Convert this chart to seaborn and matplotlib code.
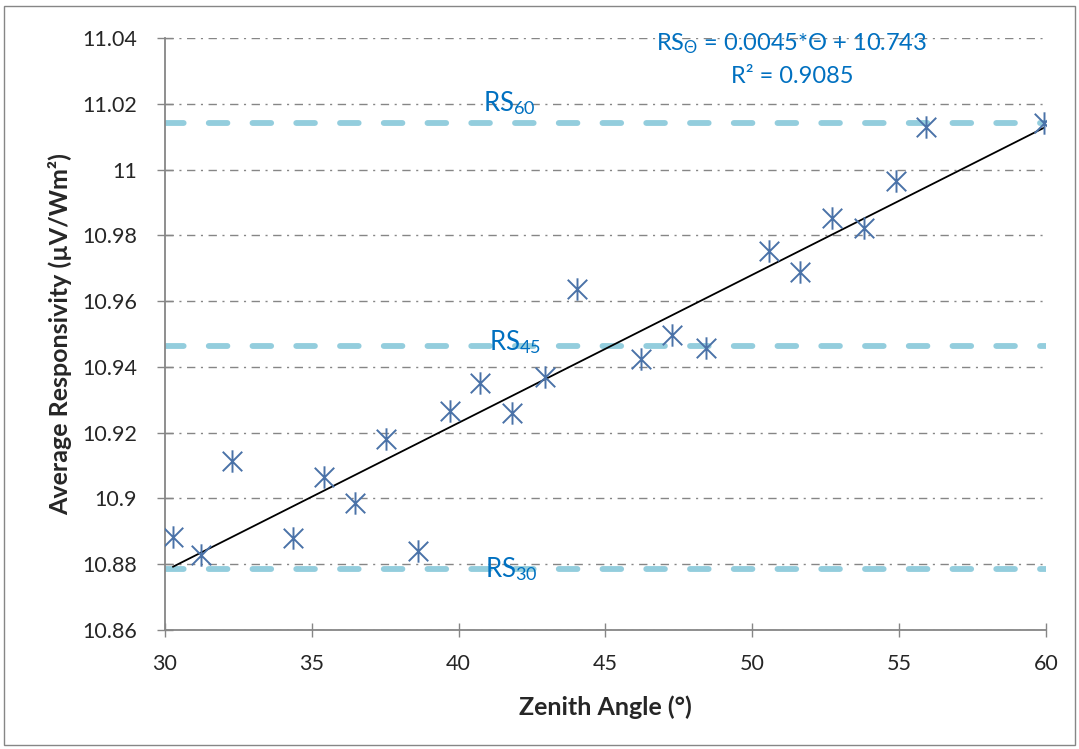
import matplotlib
matplotlib.use("Agg")
import numpy as np
import pandas as pd
import matplotlib.pyplot as plt
import matplotlib.patches as mpatches
from matplotlib.path import Path
import seaborn as sns

# ── Data ───────────────────────────────────────────────────────────────────────
zenith_angle = [30.27, 31.23, 32.27, 34.35, 35.40, 36.46, 37.53, 38.62, 39.69,
                40.74, 41.83, 42.94, 44.03, 46.21, 47.26, 48.41, 50.57, 51.64,
                52.72, 53.81, 54.88, 55.93, 59.94]
responsivity = [10.8884, 10.8828, 10.9114, 10.8880, 10.9064, 10.8985, 10.9180,
                10.8840, 10.9266, 10.9352, 10.9259, 10.9368, 10.9637, 10.9423,
                10.9497, 10.9457, 10.9753, 10.9687, 10.9852, 10.9822, 10.9966,
                11.0130, 11.0140]

fit_slope = 0.0045
fit_intercept = 10.743

ref_names = ["60", "45", "30"]
ref_values = [11.0140, 10.9462, 10.8785]
ref_label_x = [40.83, 41.03, 40.90]
ref_label_y = [11.0179, 10.9452, 10.8762]

x_ticks = [30, 35, 40, 45, 50, 55, 60]
y_ticks = [10.86, 10.88, 10.90, 10.92, 10.94, 10.96, 10.98, 11.00, 11.02, 11.04]
y_tick_labels = ["10.86", "10.88", "10.9", "10.92", "10.94", "10.96", "10.98",
                 "11", "11.02", "11.04"]

# ── Style ──────────────────────────────────────────────────────────────────────
sns.set_theme(style="white")
plt.rcParams["font.family"] = ["Lato", "DejaVu Sans"]
plt.rcParams["mathtext.fontset"] = "custom"
plt.rcParams["mathtext.rm"] = "Lato"
plt.rcParams["mathtext.it"] = "Lato:italic"
plt.rcParams["mathtext.bf"] = "Lato:bold"

GRID = "#868686"
MARK = "#4A72A8"
REF = "#93CDDD"
TXT = "#0070C0"

df = pd.DataFrame({"angle": zenith_angle, "rs": responsivity})

# Excel-style star marker: an X with a vertical stroke
star = Path(
    [(-1, -1), (1, 1), (-1, 1), (1, -1), (0, -1.15), (0, 1.15)],
    [Path.MOVETO, Path.LINETO, Path.MOVETO, Path.LINETO, Path.MOVETO, Path.LINETO],
)

fig = plt.figure(figsize=(10.79, 7.49), dpi=100)
ax = fig.add_axes([0.1529, 0.1589, 0.8165, 0.7904])

# horizontal dash-dot grid
for v in y_ticks:
    ax.plot([30, 60], [v, v], color=GRID, lw=1.0,
            linestyle=(0, (6, 4, 1.5, 4)), zorder=1)

# reference levels
for name, v, lx, ly in zip(ref_names, ref_values, ref_label_x, ref_label_y):
    ax.plot([30, 60], [v, v], color=REF, lw=4.2,
            linestyle=(0, (3.2, 4.3)), dash_capstyle="round", zorder=2)
    ax.text(lx, ly, "RS$_{" + name + "}$", color=TXT, fontsize=18.5,
            ha="left", va="baseline", zorder=5)

# trend line
trend_x = np.array([min(zenith_angle), max(zenith_angle)])
sns.lineplot(x=trend_x, y=fit_slope * trend_x + fit_intercept, color="black",
             lw=1.3, ax=ax, zorder=3)

sns.scatterplot(data=df, x="angle", y="rs", marker=star, s=260, color=MARK,
                edgecolor=MARK, linewidth=1.4, ax=ax, zorder=4)

ax.text(51.35, 11.0361, r"RS$_{\Theta}$ = 0.0045*Θ + 10.743", color=TXT,
        fontsize=17, ha="center", va="baseline")
ax.text(51.35, 11.0262, "R² = 0.9085", color=TXT, fontsize=17,
        ha="center", va="baseline")

ax.set_xlim(30, 60)
ax.set_ylim(10.86, 11.04)
ax.set_xticks(x_ticks)
ax.set_yticks(y_ticks)
ax.set_yticklabels(y_tick_labels)

for side in ["top", "right"]:
    ax.spines[side].set_visible(False)
for side in ["left", "bottom"]:
    ax.spines[side].set_color(GRID)
    ax.spines[side].set_linewidth(1.3)

ax.tick_params(axis="y", direction="inout", length=12, width=1, color=GRID,
               labelsize=15.5, pad=14, left=True)
ax.tick_params(axis="x", direction="inout", length=10, width=1, color=GRID,
               labelsize=15.5, pad=12, bottom=True)

ax.set_xlabel("Zenith Angle (°)", fontsize=18, fontweight="bold", labelpad=16)
ax.set_ylabel("Average Responsivity (µV/Wm²)", fontsize=18, fontweight="bold",
              labelpad=7)

# chart-area border
fig.patches.append(mpatches.Rectangle((0.004, 0.006), 0.992, 0.986,
                                      transform=fig.transFigure, fill=False,
                                      edgecolor=GRID, lw=1.0))

plt.savefig("out.png", dpi=100)
plt.close()
